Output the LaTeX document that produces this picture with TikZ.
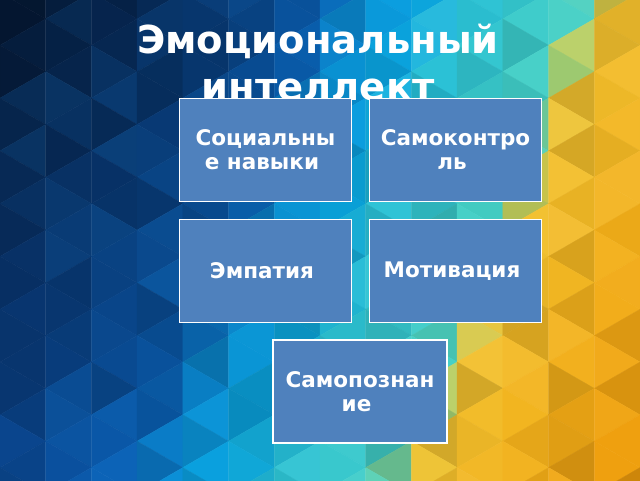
\documentclass[tikz,border=0pt]{standalone}
\usepackage{fontspec}
\setmainfont{DejaVu Sans}
\usepackage{xcolor}

\definecolor{boxblue}{HTML}{4F81BD}
\definecolor{lightblue}{HTML}{1A8FE0}
% background stops, navy -> blue -> teal -> yellow -> orange
\definecolor{s0}{HTML}{0A3674}
\definecolor{s1}{HTML}{0A428A}
\definecolor{s2}{HTML}{0A4F9E}
\definecolor{s3}{HTML}{0A62B8}
\definecolor{s4}{HTML}{0A80CC}
\definecolor{s5}{HTML}{0A9ADE}
\definecolor{s6}{HTML}{0AA8E2}
\definecolor{s7}{HTML}{28C0D6}
\definecolor{s8}{HTML}{45D0C4}
\definecolor{s9}{HTML}{B0D068}
\definecolor{s10}{HTML}{F2C230}
\definecolor{s11}{HTML}{F2AE18}
\definecolor{s12}{HTML}{EE9C0C}

\newcommand\mixseg[5]{\pgfmathsetmacro\pp{100*(#3-#1)/(#3-#2)}\colorlet{tc}{#4!\pp!#5}}
% colour of a triangle from its centre (#1,#2)
\newcommand\bgcol[2]{%
  \pgfmathsetmacro\cx{#1}\pgfmathsetmacro\cy{#2}%
  \pgfmathsetmacro\uu{min(max(\cx+0.4*\cy,0),819)}%
  \ifdim\uu pt<150pt \mixseg{\uu}{0}{150}{s0}{s1}\else
  \ifdim\uu pt<250pt \mixseg{\uu}{150}{250}{s1}{s2}\else
  \ifdim\uu pt<320pt \mixseg{\uu}{250}{320}{s2}{s3}\else
  \ifdim\uu pt<345pt \mixseg{\uu}{320}{345}{s3}{s4}\else
  \ifdim\uu pt<380pt \mixseg{\uu}{345}{380}{s4}{s5}\else
  \ifdim\uu pt<420pt \mixseg{\uu}{380}{420}{s5}{s6}\else
  \ifdim\uu pt<470pt \mixseg{\uu}{420}{470}{s6}{s7}\else
  \ifdim\uu pt<575pt \mixseg{\uu}{470}{575}{s7}{s8}\else
  \ifdim\uu pt<595pt \mixseg{\uu}{575}{595}{s8}{s9}\else
  \ifdim\uu pt<615pt \mixseg{\uu}{595}{615}{s9}{s10}\else
  \ifdim\uu pt<720pt \mixseg{\uu}{615}{720}{s10}{s11}\else
  \mixseg{\uu}{720}{820}{s11}{s12}%
  \fi\fi\fi\fi\fi\fi\fi\fi\fi\fi\fi
  \pgfmathsetmacro\dk{100-max(0,(360-\cx)/360)*min(1,max(0,1-\cy/480))*60}%
  \colorlet{tc}{tc!\dk!black}%
  \pgfmathsetmacro\jt{rnd}%
  \ifdim\jt pt<0.55pt \pgfmathsetmacro\pj{100-(0.55-\jt)*26}\colorlet{tc}{tc!\pj!black}%
  \else
    \ifdim\uu pt<420pt \pgfmathsetmacro\pj{100-(\jt-0.55)*30}\colorlet{tc}{tc!\pj!lightblue}%
    \else \pgfmathsetmacro\pj{100-(\jt-0.55)*14}\colorlet{tc}{tc!\pj!white}\fi
  \fi}

\begin{document}
\begin{tikzpicture}[x=1pt,y=-1pt,
  box/.style={draw=white,line width=1.5pt,fill=boxblue,text=white,align=center,
    minimum width=172pt,minimum height=103pt,inner sep=0pt,
    font=\bfseries\fontsize{21.5}{24}\selectfont},
  title/.style={text=white,align=center,inner sep=0pt,
    font=\bfseries\fontsize{38.5}{47}\selectfont}]
\useasboundingbox (0,0) rectangle (640,480);
\pgfmathsetseed{7}

% background triangles
\pgfmathsetmacro\w{640/14}
\pgfmathsetmacro\s{2*\w/sqrt(3)}
\foreach \i in {0,...,13}{
  \foreach \k in {-2,...,9}{
    \pgfmathsetmacro\xl{\i*\w}
    \pgfmathsetmacro\xr{(\i+1)*\w}
    \pgfmathsetmacro\yl{45.3-mod(\i,2)*\s/2+\k*\s}
    \bgcol{\xl+\w/3}{\yl+\s/2}
    \fill[tc,draw=tc,line width=0.3pt] (\xl,\yl) -- (\xl,\yl+\s) -- (\xr,\yl+\s/2) -- cycle;
    \bgcol{\xl+2*\w/3}{\yl+\s}
    \fill[tc,draw=tc,line width=0.3pt] (\xr,\yl+\s/2) -- (\xr,\yl+3*\s/2) -- (\xl,\yl+\s) -- cycle;
  }
}

\node[title,anchor=north] (titl) at (318,24) {Эмоциональный\\интеллект};

\node[box] (soc) at (265.5,150) {Социальны\\е навыки\kern7pt};
\node[box] (samokontr) at (455.5,150) {Самоконтро\\ль\kern7pt};
\node[box] (empat) at (265.5,271) {Эмпатия\kern7pt};
\node[box] (motiv) at (455.5,271) {Мотивация\kern7pt};
\node[box,minimum width=174pt] (samopozn) at (360,391.5) {Самопознан\\ие\kern7pt};

\end{tikzpicture}
\end{document}
